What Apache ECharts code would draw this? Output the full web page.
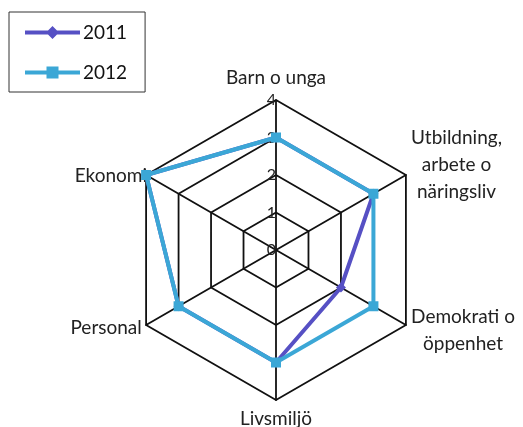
<!DOCTYPE html>
<html>
<head>
<meta charset="utf-8">
<style>
  html, body { margin: 0; padding: 0; background: #fff; }
  #chart { width: 523px; height: 427px; }
</style>
<script src="https://cdn.jsdelivr.net/npm/echarts@6/dist/echarts.min.js"></script>
</head>
<body>
<div id="chart"></div>
<script>
// kategorier i medurs ordning, med början uppifrån
const categories = ['Barn o unga', 'Utbildning,\narbete o\nnäringsliv', 'Demokrati o\nöppenhet', 'Livsmiljö', 'Personal', 'Ekonomi']
const values2011 = [3, 3, 2, 3, 3, 4]
const values2012 = [3, 3, 3, 3, 3, 4]
const seriesNames = ['2011', '2012']
const maxValue = 4

// echarts ritar moturs, så vänd ordningen efter första axeln
const order = [0, 5, 4, 3, 2, 1]
const pick = arr => order.map(i => arr[i])

// namnavstånd och extra utfyllnad per axel (i medurs ordning)
const nameGaps = [9, 6, 6, 5, 5, -1]
const namePads = [0, [0, 0, 14, 0], [4, 0, 0, 0], 0, 0, 0]

const chart = echarts.init(document.getElementById('chart'))

// legendikon: tjock linje med markör i mitten
const diamondIcon = 'path://M0,4.5L23,4.5L27.5,0L32,4.5L55,4.5L55,8.5L32,8.5L27.5,13L23,8.5L0,8.5Z'
const squareIcon = 'path://M0,4.5L21.5,4.5L21.5,0.5L33.5,0.5L33.5,4.5L55,4.5L55,8.5L33.5,8.5L33.5,12.5L21.5,12.5L21.5,8.5L0,8.5Z'

chart.setOption({
  animation: false,
  textStyle: { fontFamily: 'Lato' },
  legend: {
    orient: 'vertical',
    left: 9,
    top: 12,
    padding: [11, 18, 10, 16],
    borderColor: '#333',
    borderWidth: 1,
    itemWidth: 55,
    itemHeight: 13,
    itemGap: 21,
    textStyle: { fontSize: 19, color: '#111', padding: [0, 0, 0, -2] },
    data: [
      { name: seriesNames[0], icon: diamondIcon },
      { name: seriesNames[1], icon: squareIcon }
    ]
  },
  radar: {
    center: [276, 250],
    radius: 150,
    shape: 'polygon',
    splitNumber: 4,
    indicator: pick(categories).map((name, i) => ({
      name: name,
      min: 0,
      max: maxValue,
      nameGap: pick(nameGaps)[i],
      nameTextStyle: { padding: pick(namePads)[i] },
      axisLabel: { show: i === 0 }
    })),
    axisName: {
      color: '#222',
      fontSize: 19,
      fontFamily: 'Lato',
      formatter: name => name.split('\n').map(s => '{c|' + s + '}').join('\n'),
      rich: {
        c: { fontSize: 19, fontFamily: 'Lato', color: '#222', align: 'center', lineHeight: 27 }
      }
    },
    axisLabel: {
      show: true,
      color: '#222',
      fontSize: 16,
      fontFamily: 'Lato',
      margin: 0
    },
    axisLine: { lineStyle: { color: '#111', width: 1.8 } },
    splitLine: { lineStyle: { color: '#111', width: 1.8 } },
    splitArea: { show: false }
  },
  series: [{
    type: 'radar',
    symbolSize: 10,
    data: [
      {
        name: seriesNames[0],
        value: pick(values2011),
        symbol: 'diamond',
        lineStyle: { color: '#5650c4', width: 4 },
        itemStyle: { color: '#5650c4' }
      },
      {
        name: seriesNames[1],
        value: pick(values2012),
        symbol: 'rect',
        lineStyle: { color: '#3ba7d6', width: 4 },
        itemStyle: { color: '#3ba7d6' }
      }
    ]
  }]
})
</script>
</body>
</html>
